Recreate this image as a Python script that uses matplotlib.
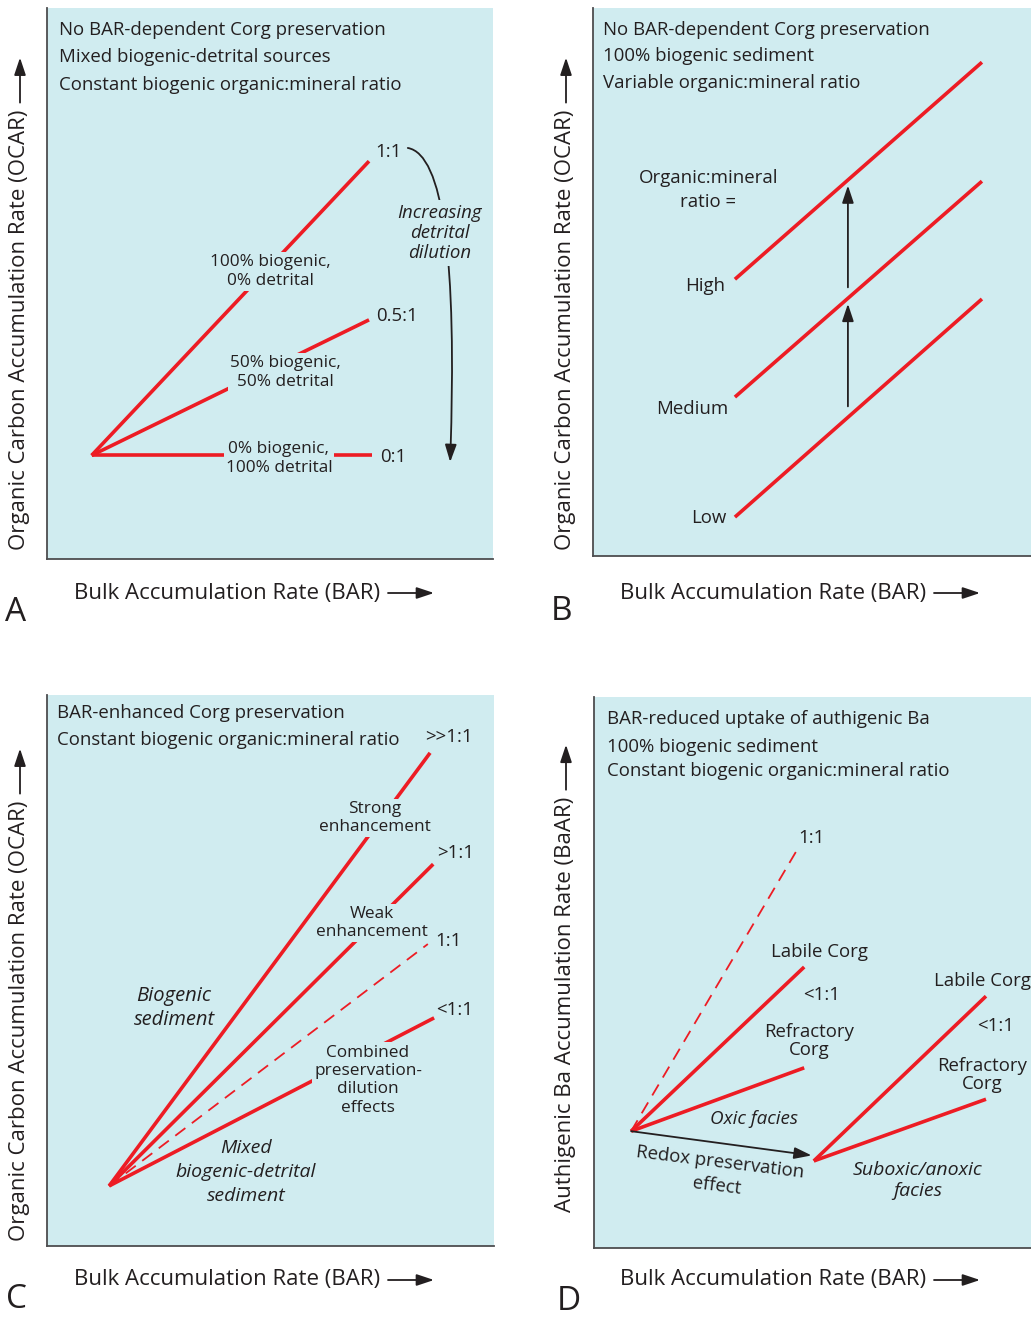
import numpy as np
import matplotlib.pyplot as plt

W, H = 1031, 1319
BG = "#d0ecf0"
RED = "#ed1c24"
INK = "#231f20"

plt.rcParams['font.family'] = ['Open Sans', 'DejaVu Sans']

# ---- panel A: mixing of biogenic and detrital material ----
a_origin = (10.0, 18.8)
a_end_x = [72.2, 72.2, 72.9]
a_end_y = [72.2, 43.4, 18.8]
a_ratio = ["1:1", "0.5:1", "0:1"]
a_mix = ["100% biogenic,\n0% detrital",
         "50% biogenic,\n50% detrital",
         "0% biogenic,\n100% detrital"]

# ---- panel B: variable organic:mineral ratio ----
b_x = [32.4, 88.8]
b_high = [50.5, 90.1]
b_medium = [29.0, 68.4]
b_low = [7.1, 46.9]
b_names = ["High", "Medium", "Low"]

# ---- panel C: BAR-enhanced preservation ----
c_origin = (13.9, 10.9)
c_end_x = [85.7, 86.4, 85.2, 86.6]
c_end_y = [89.5, 69.3, 54.8, 41.4]
c_ratio = [">>1:1", ">1:1", "1:1", "<1:1"]

# ---- panel D: Ba uptake, oxic vs suboxic/anoxic ----
d_oxic_origin = (8.5, 21.2)
d_oxic_end_x = [47.1, 48.1, 48.1]
d_oxic_end_y = [73.1, 51.0, 32.7]
d_anox_origin = (50.3, 15.8)
d_anox_end_x = [89.7, 89.7]
d_anox_end_y = [45.7, 27.0]

fig = plt.figure(figsize=(W / 100, H / 100), dpi=100)

FS_HEAD = 13.4
FS_AXIS = 16
FS_LAB = 13.4
FS_MIX = 12.4
FS_IT = 14
HEAD = "-|>,head_length=0.75,head_width=0.25"


def panel(left, top, right, bottom):
    ax = fig.add_axes([left / W, 1 - bottom / H, (right - left) / W, (bottom - top) / H])
    ax.set_xlim(0, 100)
    ax.set_ylim(0, 100)
    ax.set_facecolor(BG)
    for s in ["top", "right"]:
        ax.spines[s].set_visible(False)
    for s in ["left", "bottom"]:
        ax.spines[s].set_color("#4d4d4f")
        ax.spines[s].set_linewidth(1.3)
    ax.set_xticks([])
    ax.set_yticks([])
    return ax


def fig_arrow(x0, y0, x1, y1):
    fig.add_artist(plt.matplotlib.patches.FancyArrowPatch(
        (x0, H - y0), (x1, H - y1), transform=None,
        arrowstyle=HEAD, mutation_scale=14, lw=1.3,
        color=INK, shrinkA=0, shrinkB=0))


def axis_labels(xl_left, xl_y, yl_x, yl_bottom, ylabel, letter, lx, ly):
    fig.text(xl_left / W, 1 - xl_y / H, "Bulk Accumulation Rate (BAR)",
             fontsize=FS_AXIS, ha="left", va="center", color=INK)
    fig_arrow(xl_left + 314, xl_y, xl_left + 360, xl_y)
    t = fig.text(yl_x / W, 1 - yl_bottom / H, ylabel, fontsize=FS_AXIS,
                 rotation=90, ha="center", va="bottom", color=INK)
    fig.canvas.draw()
    bb = t.get_window_extent()
    top = H - bb.y1
    fig_arrow(yl_x, top - 7, yl_x, top - 52)
    fig.text(lx / W, 1 - ly / H, letter, fontsize=24, ha="center", va="center", color=INK)


def header(ax, x, ys, lines):
    for y, s in zip(ys, lines):
        ax.text(x, y, s, fontsize=FS_HEAD, ha="left", va="center", color=INK)


def arrow(ax, start, end, **kw):
    ax.annotate("", xy=end, xytext=start,
                arrowprops=dict(arrowstyle=HEAD, color=INK, lw=1.3, mutation_scale=14,
                                shrinkA=0, shrinkB=0, **kw))


gap = dict(boxstyle="square,pad=0.12", fc=BG, ec="none")
LW = 2.6

# ---------------- A ----------------
ax = panel(47, 8, 493, 559)
header(ax, 2.7, [96.0, 91.1, 86.0],
       ["No BAR-dependent Corg preservation",
        "Mixed biogenic-detrital sources",
        "Constant biogenic organic:mineral ratio"])
for ex, ey in zip(a_end_x, a_end_y):
    ax.plot([a_origin[0], ex], [a_origin[1], ey], color=RED, lw=LW, solid_capstyle="butt")
for (lx, ly), s in zip([(73.6, 73.8), (73.8, 44.1), (74.8, 18.5)], a_ratio):
    ax.text(lx, ly, s, fontsize=FS_LAB, ha="left", va="center", color=INK)
for (lx, ly), s in zip([(50.0, 52.1), (53.4, 33.9), (52.0, 18.3)], a_mix):
    ax.text(lx, ly, s, fontsize=FS_MIX, ha="center", va="center", color=INK,
            linespacing=1.25, bbox=gap)
arrow(ax, (80.9, 74.6), (90.4, 17.6), connectionstyle="angle3,angleA=-10,angleB=88")
ax.text(88.0, 59.2, "Increasing\ndetrital\ndilution", fontsize=FS_LAB, style="italic",
        ha="center", va="center", color=INK, linespacing=1.15,
        bbox=dict(boxstyle="square,pad=0.2", fc=BG, ec="none"))
axis_labels(74, 593, 20, 550, "Organic Carbon Accumulation Rate (OCAR)", "A", 16, 612)

# ---------------- B ----------------
ax = panel(593, 8, 1031, 556)
header(ax, 2.3, [96.0, 91.2, 86.3],
       ["No BAR-dependent Corg preservation",
        "100% biogenic sediment",
        "Variable organic:mineral ratio"])
for ys in (b_high, b_medium, b_low):
    ax.plot(b_x, ys, color=RED, lw=LW, solid_capstyle="butt")
ax_x = 58.2
for lo, hi in ((b_medium, b_high), (b_low, b_medium)):
    y0 = np.interp(ax_x, b_x, lo) + 2.0
    y1 = np.interp(ax_x, b_x, hi) - 1.0
    arrow(ax, (ax_x, y0), (ax_x, y1))
ax.text(26.3, 66.8, "Organic:mineral\nratio =", fontsize=FS_LAB, ha="center",
        va="center", color=INK, linespacing=1.4)
for (lx, ly), s in zip([(30.1, 49.3), (30.8, 26.8), (30.4, 6.9)], b_names):
    ax.text(lx, ly, s, fontsize=FS_LAB, ha="right", va="center", color=INK)
axis_labels(620, 593, 566, 550, "Organic Carbon Accumulation Rate (OCAR)", "B", 562, 611)

# ---------------- C ----------------
ax = panel(47, 695, 494, 1246)
header(ax, 2.2, [96.7, 91.8],
       ["BAR-enhanced Corg preservation",
        "Constant biogenic organic:mineral ratio"])
for i, (ex, ey) in enumerate(zip(c_end_x, c_end_y)):
    if c_ratio[i] == "1:1":
        ax.plot([c_origin[0], ex], [c_origin[1], ey], color=RED, lw=1.3,
                dashes=(7, 4.5))
    else:
        # the steepest line sits above the "Weak" label box, below its own label
        z = 3.5 if i == 0 else 2
        ax.plot([c_origin[0], ex], [c_origin[1], ey], color=RED, lw=LW,
                solid_capstyle="butt", zorder=z)
for (lx, ly), s in zip([(89.9, 92.3), (91.5, 71.3), (89.9, 55.4), (91.1, 42.8)], c_ratio):
    ax.text(lx, ly, s, fontsize=FS_LAB, ha="center", va="center", color=INK)
ax.text(73.4, 77.7, "Strong\nenhancement", fontsize=FS_MIX, ha="center", va="center",
        color=INK, linespacing=1.15, bbox=gap, zorder=4)
ax.text(72.7, 58.6, "Weak\nenhancement", fontsize=FS_MIX, ha="center", va="center",
        color=INK, linespacing=1.15, bbox=gap)
ax.text(71.8, 30.1, "Combined\npreservation-\ndilution\neffects", fontsize=FS_MIX,
        ha="center", va="center", color=INK, linespacing=1.2, bbox=gap)
ax.text(28.4, 43.2, "Biogenic\nsediment", fontsize=14.5, style="italic",
        ha="center", va="center", color=INK, linespacing=1.3)
ax.text(44.5, 13.4, "Mixed\nbiogenic-detrital\nsediment", fontsize=FS_IT, style="italic",
        ha="center", va="center", color=INK, linespacing=1.45)
axis_labels(74, 1280, 20, 1241, "Organic Carbon Accumulation Rate (OCAR)", "C", 17, 1300)

# ---------------- D ----------------
ax = panel(594, 697, 1031, 1248)
header(ax, 3.0, [96.0, 91.0, 86.6],
       ["BAR-reduced uptake of authigenic Ba",
        "100% biogenic sediment",
        "Constant biogenic organic:mineral ratio"])
ax.plot([d_oxic_origin[0], d_oxic_end_x[0]], [d_oxic_origin[1], d_oxic_end_y[0]],
        color=RED, lw=1.3, dashes=(7, 4.5))
for ex, ey in zip(d_oxic_end_x[1:], d_oxic_end_y[1:]):
    ax.plot([d_oxic_origin[0], ex], [d_oxic_origin[1], ey], color=RED, lw=LW,
            solid_capstyle="butt")
for ex, ey in zip(d_anox_end_x, d_anox_end_y):
    ax.plot([d_anox_origin[0], ex], [d_anox_origin[1], ey], color=RED, lw=LW,
            solid_capstyle="butt")
arrow(ax, d_oxic_origin, (d_anox_origin[0] - 0.5, d_anox_origin[1] + 1.0))
ax.text(49.7, 74.4, "1:1", fontsize=FS_LAB, ha="center", va="center", color=INK)
ax.text(51.5, 53.7, "Labile Corg", fontsize=FS_LAB, ha="center", va="center", color=INK)
ax.text(52.2, 45.9, "<1:1", fontsize=FS_LAB, ha="center", va="center", color=INK)
ax.text(49.2, 37.6, "Refractory\nCorg", fontsize=FS_LAB, ha="center", va="center",
        color=INK, linespacing=1.0)
ax.text(36.6, 23.4, "Oxic facies", fontsize=13.6, style="italic", ha="center",
        va="center", color=INK)
ax.text(28.4, 13.4, "Redox preservation\neffect", fontsize=13.4, ha="center",
        va="center", color=INK, rotation=-7, rotation_mode="anchor", linespacing=1.4)
ax.text(88.8, 48.5, "Labile Corg", fontsize=FS_LAB, ha="center", va="center", color=INK,
        clip_on=False)
ax.text(91.8, 40.3, "<1:1", fontsize=FS_LAB, ha="center", va="center", color=INK)
ax.text(88.8, 31.4, "Refractory\nCorg", fontsize=FS_LAB, ha="center", va="center",
        color=INK, linespacing=1.0)
ax.text(74.1, 12.3, "Suboxic/anoxic\nfacies", fontsize=FS_IT, style="italic",
        ha="center", va="center", color=INK, linespacing=1.2)
axis_labels(620, 1280, 566, 1212, "Authigenic Ba Accumulation Rate (BaAR)", "D", 569, 1302)

fig.savefig("out.png", dpi=100, facecolor="white")
